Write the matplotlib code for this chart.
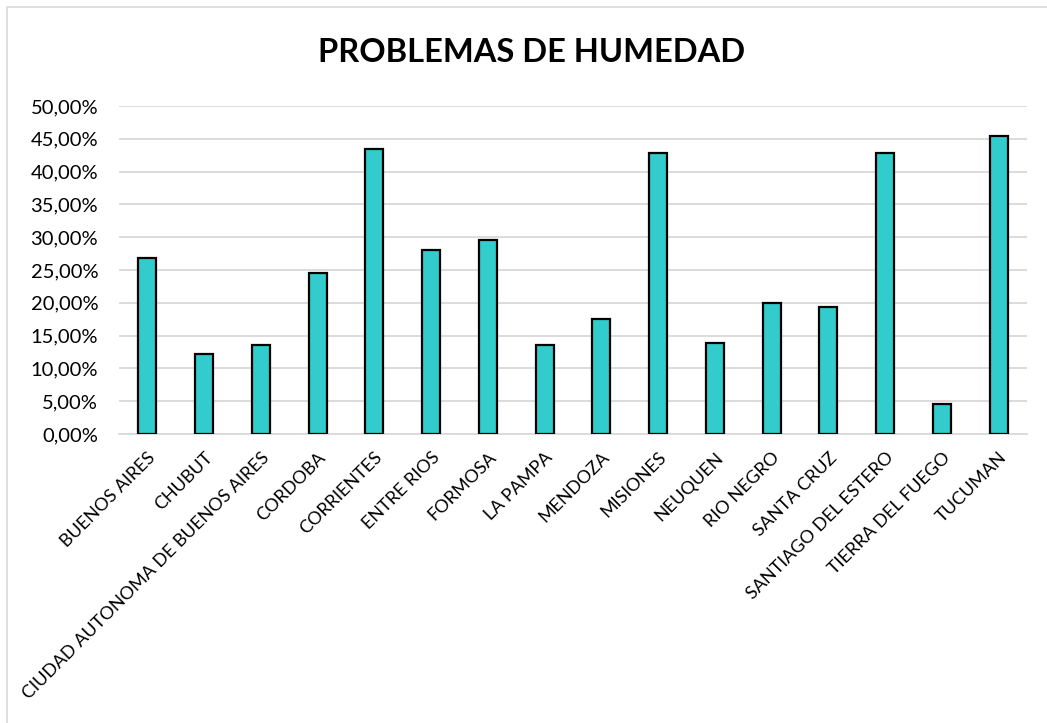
import matplotlib.pyplot as plt
from matplotlib.patches import Rectangle
from matplotlib.ticker import FuncFormatter

plt.rcParams['font.family'] = ['Lato', 'DejaVu Sans']

provincias = ['BUENOS AIRES', 'CHUBUT', 'CIUDAD AUTONOMA DE BUENOS AIRES',
              'CORDOBA', 'CORRIENTES', 'ENTRE RIOS', 'FORMOSA', 'LA PAMPA',
              'MENDOZA', 'MISIONES', 'NEUQUEN', 'RIO NEGRO', 'SANTA CRUZ',
              'SANTIAGO DEL ESTERO', 'TIERRA DEL FUEGO', 'TUCUMAN']
humedad = [0.269, 0.1225, 0.135, 0.245, 0.435, 0.2805, 0.296, 0.135,
           0.176, 0.429, 0.139, 0.200, 0.194, 0.429, 0.046, 0.454]
yticks = [i * 0.05 for i in range(11)]

fig = plt.figure(figsize=(10.47, 7.23), dpi=100)
# left/top border of the chart area
fig.patches.append(Rectangle((7 / 1047, -0.1), 1.2, (723 - 7) / 723 + 0.1,
                             transform=fig.transFigure, fill=False,
                             edgecolor='#d9d9d9', linewidth=1.2))
ax = fig.add_axes([119 / 1047, 1 - 434 / 723, (1027 - 119) / 1047, 328 / 723])

x = range(len(provincias))
ax.bar(x, humedad, width=0.32, color='#33CCCC', edgecolor='black',
       linewidth=1.6, zorder=3)

ax.set_xlim(-0.5, len(provincias) - 0.5)
ax.set_ylim(0, 0.5)
ax.set_yticks(yticks)
ax.yaxis.set_major_formatter(
    FuncFormatter(lambda v, p: f"{v * 100:.2f}%".replace('.', ',')))
ax.set_xticks(list(x))
ax.set_xticklabels(provincias, rotation=45, ha='right',
                   rotation_mode='anchor', fontsize=13)
ax.tick_params(axis='y', labelsize=14.5, length=0, pad=15)
ax.tick_params(axis='x', length=0, pad=11)
ax.grid(axis='y', color='#d9d9d9', linewidth=1.3, zorder=0)
for s in ['top', 'right', 'left']:
    ax.spines[s].set_visible(False)
ax.spines['bottom'].set_color('#d9d9d9')
ax.spines['bottom'].set_linewidth(1.3)

fig.text(532 / 1047, 1 - 52 / 723, 'PROBLEMAS DE HUMEDAD', ha='center',
         va='center', fontsize=23.5, fontweight='bold')

fig.savefig('out.png', dpi=100)
